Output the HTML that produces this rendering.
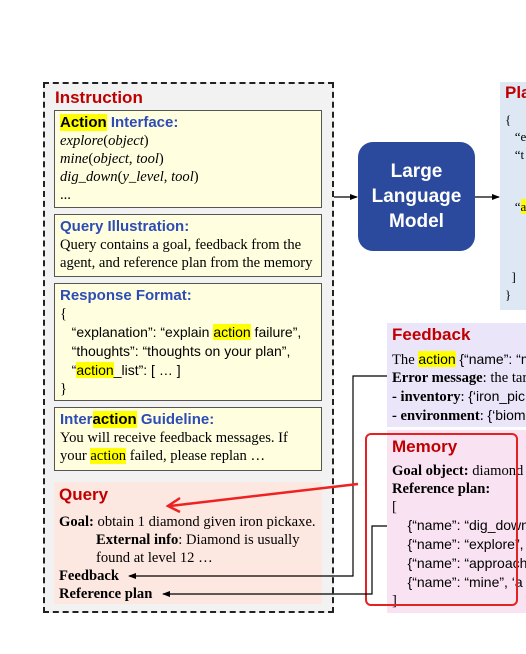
<!DOCTYPE html>
<html><head><meta charset="utf-8"><style>
body{margin:0;width:526px;height:654px;background:#fff;position:relative;overflow:hidden;font-family:"Liberation Serif",serif;}
div{position:absolute;box-sizing:border-box;}
.s{font-family:"Liberation Sans",sans-serif;}
.hb{font-family:"Liberation Sans",sans-serif;color:#2d4cb5;font-size:15px;font-weight:bold;}
.box{background:#ffffe0;border:1px solid #555;left:54px;width:268px;padding:3px 0 0 5px;font-size:14.6px;line-height:18px;white-space:nowrap;overflow:hidden}
.hl{background:#ffff00;}
.red{font-family:"Liberation Sans",sans-serif;color:#c00000;font-size:17px;font-weight:bold;}
.sa{font-family:"Liberation Sans",sans-serif;font-size:14px;}
i{font-family:"Liberation Serif",serif;}
</style></head><body>
<div style="left:43px;top:82px;width:291px;height:531px;background:#f2f2f2;border:2px dashed #222"></div>
<div class="red" style="left:55px;top:88px">Instruction</div>
<div class="box" style="top:110px;height:98px"><span class="hb"><span class="hl" style="color:#000">Action</span> Interface:</span><br><i>explore</i>(<i>object</i>)<br><i>mine</i>(<i>object</i>, <i>tool</i>)<br><i>dig_down</i>(<i>y_level</i>, <i>tool</i>)<br>...</div>
<div class="box" style="top:214px;height:63px"><span class="hb">Query Illustration:</span><br>Query contains a goal, feedback from the<br>agent, and reference plan from the memory</div>
<div class="box" style="top:283px;height:118px;line-height:18px"><span class="hb">Response Format:</span><br>{<br><span class="sa">&nbsp;&nbsp;&nbsp;“explanation”: “explain <span class="hl">action</span> failure”,<br>&nbsp;&nbsp;&nbsp;“thoughts”: “thoughts on your plan”,<br>&nbsp;&nbsp;&nbsp;“<span class="hl">action</span>_list”: [ … ]</span><br>}</div>
<div class="box" style="top:407px;height:64px"><span class="hb">Inter<span class="hl" style="color:#000">action</span> Guideline:</span><br>You will receive feedback messages. If<br>your <span class="hl">action</span> failed, please replan …</div>
<div style="left:54px;top:482px;width:268px;height:122px;background:#fde8e1;padding:4px 0 0 5px;font-size:14.6px;line-height:18px;white-space:nowrap"><span class="red">Query</span><br><div style="position:static;height:8px"></div><b>Goal:</b> obtain 1 diamond given iron pickaxe.<br><span style="padding-left:37px"><b>External info</b>: Diamond is usually</span><br><span style="padding-left:37px">found at level 12 …</span><br><b>Feedback</b><br><b>Reference plan</b></div>
<div class="s" style="left:358px;top:142px;width:117px;height:109px;background:#2b4a9d;border-radius:15px;color:#fff;font-size:19px;font-weight:bold;text-align:center;line-height:25px;padding-top:17px">Large<br>Language<br>Model</div>
<div style="left:500px;top:82px;width:40px;height:228px;background:#dee8f5;padding:2px 0 0 5px;font-size:13px;line-height:17.5px;white-space:nowrap;overflow:hidden"><span class="red">Plan</span><br><div style="position:static;height:8px"></div>{<br>&nbsp;&nbsp;&nbsp;“e<br>&nbsp;&nbsp;&nbsp;“t<br><br><br>&nbsp;&nbsp;&nbsp;“<span class="hl">a</span><br><br><br><br>&nbsp;&nbsp;]<br>}</div>
<div style="left:387px;top:323px;width:150px;height:104px;background:#ebe5f9;padding:3px 0 0 5px;font-size:14.6px;line-height:18px;white-space:nowrap;overflow:hidden"><span class="red">Feedback</span><br><div style="position:static;height:5px"></div>The <span class="hl sa">action</span> <span class="sa">{“name”: “m</span><br><b>Error message</b>: the tar<br><b>- inventory</b>: <span class="sa">{‘iron_pic</span><br><b>- environment</b>: <span class="sa">{‘biom</span></div>
<div style="left:387px;top:430px;width:150px;height:183px;background:#f9e3f2;padding:8px 0 0 5px;font-size:14.6px;line-height:18px;white-space:nowrap;overflow:hidden"><span class="red">Memory</span><br><div style="position:static;height:5px"></div><b>Goal object:</b> diamond<br><b>Reference plan:</b><br>[<br><span class="sa">&nbsp;&nbsp;&nbsp;&nbsp;{“name”: “dig_down<br>&nbsp;&nbsp;&nbsp;&nbsp;{“name”: “explore”,<br>&nbsp;&nbsp;&nbsp;&nbsp;{“name”: “approach<br>&nbsp;&nbsp;&nbsp;&nbsp;{“name”: “mine”, ‘a</span><br>]</div>
<div style="left:365px;top:433px;width:153px;height:173px;border:2.5px solid #e52222;border-radius:6px"></div>
<svg width="526" height="654" style="position:absolute;left:0;top:0">
<defs><marker id="a" markerWidth="8" markerHeight="8" refX="7" refY="4" orient="auto" markerUnits="userSpaceOnUse"><path d="M0,1 L8,4 L0,7 Z" fill="#000"/></marker></defs>
<line x1="334" y1="197" x2="357" y2="197" stroke="#000" stroke-width="1.3" marker-end="url(#a)"/>
<line x1="475" y1="197" x2="499" y2="197" stroke="#000" stroke-width="1.3" marker-end="url(#a)"/>
<polyline points="387,376 353,376 353,576 129,576" fill="none" stroke="#000" stroke-width="1.2" marker-end="url(#a)"/>
<polyline points="387,526 372,526 372,594 163,594" fill="none" stroke="#000" stroke-width="1.2" marker-end="url(#a)"/>
<line x1="358" y1="484" x2="170" y2="506" stroke="#ee2222" stroke-width="2.5"/>
<polyline points="180,498 168,506 180,512" fill="none" stroke="#ee2222" stroke-width="2.5"/>
</svg>
</body></html>
